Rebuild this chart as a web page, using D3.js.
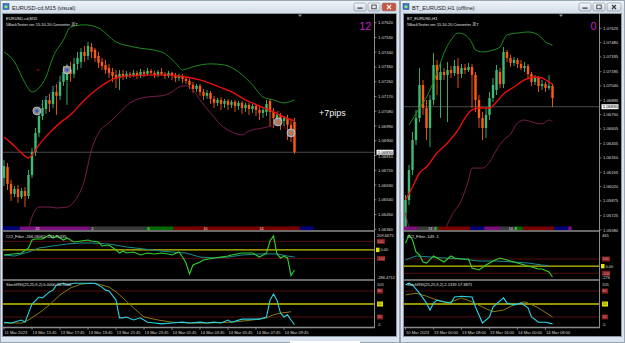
<!DOCTYPE html>
<html><head><meta charset="utf-8">
<script src="https://cdn.jsdelivr.net/npm/d3@7"></script>
<style>
html,body{margin:0;padding:0;background:#d9e2ec;overflow:hidden}
svg{display:block}
text{font-family:"Liberation Sans",Arial,"Noto Sans CJK JP",sans-serif}
</style></head><body>
<svg id="c" width="625" height="343"></svg>
<script>
// ---------------- DATA ----------------
// Left chart: EURUSD-cd M15, candles [open, high, low, close]
const leftOHLC=[
[1.06673,1.06783,1.06624,1.06746],[1.06740,1.06765,1.06600,1.06637],[1.06637,1.06661,1.06533,1.06576],[1.06576,1.06624,1.06557,1.06606],
[1.06606,1.06631,1.06521,1.06557],[1.06557,1.06612,1.06545,1.06594],[1.06594,1.06618,1.06496,1.06563],[1.06563,1.06722,1.06545,1.06692],
[1.06692,1.06856,1.06673,1.06832],[1.06832,1.06978,1.06807,1.06948],[1.06948,1.07100,1.06923,1.07051],[1.07051,1.07149,1.07027,1.07100],
[1.07094,1.07174,1.07064,1.07149],[1.07149,1.07186,1.07076,1.07125],[1.07125,1.07235,1.07100,1.07198],[1.07198,1.07247,1.07058,1.07174],
[1.07174,1.07296,1.07149,1.07259],[1.07259,1.07356,1.07235,1.07320],[1.07271,1.07369,1.07119,1.07332],[1.07332,1.07381,1.07259,1.07308],
[1.07308,1.07405,1.07283,1.07369],[1.07369,1.07442,1.07332,1.07405],[1.07381,1.07466,1.07344,1.07442],[1.07442,1.07478,1.07381,1.07417],
[1.07417,1.07503,1.07393,1.07478],[1.07472,1.07497,1.07405,1.07442],[1.07454,1.07466,1.07381,1.07405],[1.07417,1.07442,1.07344,1.07375],
[1.07381,1.07405,1.07332,1.07356],[1.07362,1.07393,1.07308,1.07332],[1.07344,1.07369,1.07283,1.07314],[1.07320,1.07344,1.07259,1.07296],
[1.07302,1.07332,1.07222,1.07277],[1.07283,1.07332,1.07210,1.07308],[1.07308,1.07332,1.07271,1.07289],[1.07289,1.07326,1.07277,1.07308],
[1.07308,1.07320,1.07283,1.07302],[1.07302,1.07332,1.07289,1.07314],[1.07314,1.07326,1.07277,1.07296],[1.07296,1.07338,1.07283,1.07320],
[1.07320,1.07332,1.07289,1.07308],[1.07308,1.07344,1.07296,1.07326],[1.07326,1.07338,1.07302,1.07314],[1.07314,1.07326,1.07283,1.07302],
[1.07302,1.07332,1.07289,1.07320],[1.07320,1.07344,1.07296,1.07308],[1.07308,1.07320,1.07277,1.07296],[1.07296,1.07326,1.07283,1.07314],
[1.07314,1.07320,1.07271,1.07296],[1.07296,1.07314,1.07259,1.07283],[1.07283,1.07308,1.07265,1.07296],[1.07296,1.07308,1.07253,1.07277],
[1.07277,1.07289,1.07247,1.07265],[1.07265,1.07277,1.07216,1.07241],[1.07241,1.07259,1.07192,1.07216],[1.07216,1.07247,1.07198,1.07235],
[1.07235,1.07247,1.07174,1.07198],[1.07198,1.07216,1.07149,1.07174],[1.07174,1.07210,1.07155,1.07192],[1.07192,1.07204,1.07125,1.07155],
[1.07155,1.07174,1.07100,1.07131],[1.07131,1.07161,1.07112,1.07149],[1.07149,1.07167,1.07088,1.07125],[1.07125,1.07155,1.07100,1.07143],
[1.07143,1.07155,1.07088,1.07119],[1.07119,1.07149,1.07100,1.07137],[1.07137,1.07149,1.07076,1.07112],[1.07112,1.07143,1.07088,1.07131],
[1.07131,1.07143,1.07064,1.07100],[1.07100,1.07131,1.07076,1.07119],[1.07119,1.07131,1.07058,1.07094],[1.07094,1.07125,1.07070,1.07112],
[1.07112,1.07125,1.07051,1.07088],[1.07088,1.07106,1.07027,1.07070],[1.07070,1.07100,1.07039,1.07088],[1.07076,1.07149,1.07051,1.07125],
[1.07143,1.07155,1.06990,1.07076],[1.07076,1.07100,1.06978,1.07039],[1.07039,1.07076,1.07003,1.07058],[1.07058,1.07070,1.06966,1.07021],
[1.07021,1.07051,1.06990,1.07039],[1.07039,1.07058,1.06905,1.06997],[1.06997,1.07027,1.06893,1.06966],[1.07015,1.07039,1.06820,1.06832]];
// Bollinger bands [bar index, price]
const leftUpper=[[0,1.07442],[3,1.07381],[6,1.07253],[8,1.07198],[10,1.07222],[12,1.07289],[14,1.07411],[17,1.07515],[19,1.07594],[23,1.07607],[27,1.07588],[32,1.07503],[37,1.07472],[45,1.07442],[49,1.07375],[51,1.07332],[53,1.07344],[56,1.07362],[59,1.07369],[63,1.07362],[67,1.07320],[71,1.07241],[74,1.07167],[77,1.07149],[80,1.07131],[83,1.07149]];
const leftMiddle=[[0,1.06923],[2,1.06887],[5,1.06826],[7,1.06795],[8,1.06813],[10,1.06875],[13,1.06948],[16,1.07009],[19,1.07058],[23,1.07149],[27,1.07222],[32,1.07283],[36,1.07296],[45,1.07302],[52,1.07289],[56,1.07271],[60,1.07241],[65,1.07198],[69,1.07149],[73,1.07112],[77,1.07076],[80,1.07045],[83,1.07021]];
const leftLower=[[5,1.06295],[7,1.06368],[8,1.06435],[10,1.06496],[13,1.06496],[15,1.06490],[18,1.06496],[20,1.06527],[23,1.06661],[25,1.06844],[27,1.06948],[30,1.07009],[33,1.07070],[36,1.07131],[41,1.07167],[45,1.07174],[48,1.07198],[50,1.07228],[52,1.07235],[54,1.07210],[56,1.07149],[59,1.07070],[62,1.06997],[65,1.06954],[68,1.06936],[70,1.06960],[74,1.06978],[78,1.06997]];
const leftCCI=[[0,-60],[5,-37],[7,22],[8,116],[9,128],[11,128],[13,175],[14,140],[15,163],[17,116],[18,140],[20,93],[22,104],[24,116],[25,104],[27,93],[28,46],[30,57],[32,-1],[33,-37],[34,-13],[35,-37],[37,-25],[39,-60],[41,-37],[43,-48],[45,-37],[47,-48],[48,-60],[50,-25],[51,-84],[52,-154],[53,-283],[54,-177],[56,-142],[57,-119],[60,-95],[62,-84],[64,-72],[65,-60],[68,-37],[70,-37],[71,-37],[73,-84],[75,-37],[76,104],[77,163],[78,-48],[79,-95],[80,-72],[81,-95],[82,-300],[83,-236]];
const leftCCISignal=[[0,-60],[3,-72],[7,-25],[10,22],[14,46],[18,69],[22,81],[25,81],[30,69],[35,34],[40,10],[45,-13],[48,-25],[52,-37],[56,-84],[60,-95],[64,-84],[68,-60],[73,-48],[78,-48],[81,-72],[83,-84]];
const leftStoch=[[0,8],[2,6],[5,13],[6,8],[7,29],[8,50],[10,66],[11,64],[13,78],[14,82],[15,94],[17,98],[18,94],[20,98],[23,98],[26,98],[28,89],[29,82],[30,80],[32,59],[33,18],[34,18],[35,20],[37,13],[39,18],[41,8],[43,6],[45,4],[48,6],[51,8],[53,6],[56,8],[58,6],[60,8],[62,6],[64,13],[65,8],[68,15],[70,15],[73,15],[75,20],[76,59],[77,73],[78,59],[79,29],[80,20],[81,25],[82,13],[83,2]];
const leftStochSignal=[[0,6],[5,6],[7,13],[10,29],[13,48],[16,71],[19,87],[22,96],[25,98],[27,96],[30,89],[32,78],[34,64],[37,41],[40,20],[44,13],[48,8],[53,6],[58,6],[65,8],[71,13],[75,18],[77,25],[79,29],[82,32]];
const leftMarkers=[[9.4,1.07082,"buy"],[18,1.07332,"buy"],[78.3,1.07015,"sell"],[82,1.06948,"sell"]];
const leftOrderMarks=[[9.7,1.07332],[78.3,1.07076]];
const leftSessions=[[-0.5,5,"#00007a"],[5,25,"#7d0f7d"],[25,41,"#3a3a3a"],[41,49,"#006a00"],[49,85,"#7a0000"],[85,89,"#00007a"]];
const leftSessionLabels=[[9,"22"],[25,"2"],[41,"6"],[57,"10"],[73,"14"]];
const leftPriceTicks=[1.07620,1.07530,1.07440,1.07350,1.07260,1.07170,1.07080,1.06990,1.06900,1.06810,1.06720,1.06630,1.06540,1.06450,1.06360];
const leftTimeLabels=["11 Mar 2023","13 Mar 15:45","13 Mar 17:45","13 Mar 19:45","13 Mar 21:45","13 Mar 23:45","14 Mar 01:45","14 Mar 03:45","14 Mar 05:45","14 Mar 07:45","14 Mar 09:45"];
const leftTimeIdx=[0,8,16,24,32,40,48,56,64,72,80];

// Right chart: BT_EURUSD H1
const rightOHLC=[
[1.05600,1.05935,1.05560,1.05884],[1.05884,1.06239,1.05833,1.06188],[1.06188,1.06574,1.06138,1.06492],[1.06492,1.06797,1.06442,1.06716],
[1.06716,1.07223,1.06675,1.07050],[1.07050,1.07101,1.06746,1.06817],[1.06817,1.06898,1.06492,1.06614],[1.06614,1.06949,1.06421,1.06898],
[1.06898,1.07375,1.06847,1.07253],[1.07253,1.07304,1.06949,1.07101],[1.07101,1.07283,1.06716,1.07182],[1.07182,1.07223,1.07101,1.07152],
[1.07152,1.07283,1.06675,1.07202],[1.07202,1.07243,1.07121,1.07172],[1.07172,1.07304,1.07141,1.07243],[1.07243,1.07324,1.07020,1.07162],
[1.07162,1.07263,1.07121,1.07223],[1.07223,1.07263,1.07162,1.07202],[1.07202,1.07273,1.07182,1.07233],[1.07233,1.07263,1.06817,1.07152],
[1.07152,1.07182,1.06776,1.06898],[1.06898,1.06949,1.06614,1.06716],[1.06716,1.06776,1.06492,1.06614],[1.06614,1.06817,1.06513,1.06746],
[1.06746,1.06979,1.06695,1.06918],[1.06918,1.07121,1.06878,1.07050],[1.06999,1.07253,1.06949,1.07202],[1.07182,1.07223,1.07020,1.07060],
[1.07060,1.07435,1.07020,1.07385],[1.07385,1.07405,1.07283,1.07324],[1.07324,1.07354,1.07233,1.07273],[1.07273,1.07334,1.07243,1.07304],
[1.07304,1.07324,1.07223,1.07263],[1.07263,1.07304,1.07202,1.07223],[1.07223,1.07283,1.07182,1.07243],[1.07243,1.07263,1.07121,1.07162],
[1.07162,1.07182,1.07040,1.07081],[1.07081,1.07152,1.07050,1.07121],[1.07121,1.07141,1.06979,1.07040],[1.07040,1.07101,1.06999,1.07060],
[1.07060,1.07081,1.06979,1.07020],[1.07020,1.07152,1.06999,1.07040],[1.07040,1.07060,1.06827,1.06918]];
const rightUpper=[[1,1.06645],[4,1.06817],[6,1.06928],[9,1.07172],[11,1.07375],[13,1.07506],[15,1.07577],[17,1.07557],[19,1.07476],[20,1.07405],[22,1.07385],[25,1.07405],[27,1.07435],[28,1.07506],[29,1.07557],[32,1.07577],[35,1.07588],[38,1.07557],[40,1.07486],[42,1.07456]];
const rightMiddle=[[0,1.05884],[2,1.06016],[4,1.06158],[6,1.06219],[9,1.06361],[12,1.06462],[15,1.06594],[17,1.06716],[19,1.06797],[21,1.06817],[24,1.06817],[26,1.06878],[28,1.06959],[31,1.07030],[34,1.07101],[37,1.07131],[39,1.07121],[41,1.07081],[42,1.07060]];
const rightLower=[[0,1.05752],[1,1.05600],[2,1.05428],[5,1.04900],[9,1.05100],[11,1.05529],[13,1.05712],[16,1.05884],[18,1.06087],[19,1.06208],[22,1.06208],[24,1.06269],[26,1.06391],[28,1.06492],[30,1.06553],[32,1.06665],[34,1.06695],[37,1.06665],[39,1.06655],[41,1.06695],[42,1.06675]];
const rightCCI=[[0,325],[1,437],[2,367],[3,199],[4,157],[5,58],[6,44],[8,143],[9,115],[11,58],[13,143],[14,115],[16,100],[18,100],[19,-26],[21,-54],[23,16],[25,72],[27,115],[29,86],[31,58],[34,16],[36,-12],[38,-40],[39,-40],[41,-82],[42,-152]];
const rightCCISignal=[[0,86],[3,143],[7,129],[11,115],[16,100],[21,72],[26,72],[31,58],[35,44],[39,16],[41,2]];
const rightStoch=[[0,94],[1,98],[2,94],[4,75],[6,52],[7,36],[8,52],[9,59],[11,55],[13,52],[14,66],[16,68],[19,66],[20,43],[22,6],[24,20],[25,43],[28,64],[29,52],[31,48],[33,52],[35,41],[36,20],[38,8],[40,8],[42,4]];
const rightStochSignal=[[0,71],[3,75],[6,68],[9,59],[12,52],[16,64],[19,55],[22,43],[25,32],[28,36],[31,48],[34,55],[35,52],[38,41],[42,20]];
const rightSessions=[[-0.5,4,"#7d0f7d"],[4,9,"#3a3a3a"],[9,10,"#006a00"],[10,19,"#7a0000"],[19,23,"#00007a"],[23,27.5,"#7d0f7d"],[27.5,31.5,"#3a3a3a"],[31.5,34,"#006a00"],[34,43,"#7a0000"],[43,47,"#00007a"],[47,48,"#7d0f7d"]];
const rightSessionLabels=[[6.5,"13_8"],[29.5,"14_8"]];
const rightPriceTicks=[1.07625,1.07480,1.07335,1.07185,1.07040,1.06895,1.06750,1.06605,1.06455,1.06310,1.06165,1.06020,1.05875,1.05725,1.05580];
const rightTimeLabels=["10 Mar 2023","13 Mar 00:00","13 Mar 08:00","13 Mar 16:00","14 Mar 00:00","14 Mar 08:00"];
const rightTimeIdx=[0,8,16,24,32,40];

const currentPrice=1.06830;
const cciLevels=[100,0,-100];
const stochLevels=[80,50,20];

// ---------------- DRAW ----------------
const svg=d3.select("#c");
const defs=svg.append("defs");
const tg=defs.append("linearGradient").attr("id","tb").attr("x1",0).attr("y1",0).attr("x2",0).attr("y2",1);
tg.append("stop").attr("offset","0").attr("stop-color","#eef3f8");
tg.append("stop").attr("offset","1").attr("stop-color","#d3dde8");
const bg=defs.append("linearGradient").attr("id","btn").attr("x1",0).attr("y1",0).attr("x2",0).attr("y2",1);
bg.append("stop").attr("offset","0").attr("stop-color","#f6f8fb");
bg.append("stop").attr("offset","1").attr("stop-color","#cdd7e2");

svg.append("rect").attr("width",625).attr("height",343).attr("fill","#d6dfe9");

function T(g,x,y,s,size,fill,anchor){
  return g.append("text").attr("x",x).attr("y",y).attr("font-size",size).attr("fill",fill)
   .attr("text-anchor",anchor||"start").text(s);
}

function windowChrome(x0,x1,title,active){
  const g=svg.append("g");
  g.append("rect").attr("x",x0+0.5).attr("y",0.5).attr("width",x1-x0-1).attr("height",342).attr("fill","#dbe4ee").attr("stroke","#9aa7b5");
  g.append("rect").attr("x",x0+1).attr("y",1).attr("width",x1-x0-2).attr("height",12).attr("fill","url(#tb)");
  g.append("rect").attr("x",x0+3).attr("y",3.5).attr("width",6).attr("height",6).attr("fill","#3a78c8").attr("stroke","#1d4f8a").attr("stroke-width",0.5);
  g.append("rect").attr("x",x0+4.5).attr("y",5.5).attr("width",3).attr("height",2.5).attr("fill","#8fe07a");
  T(g,x0+12,9.6,title,5.6,"#1e1e1e");
  const bw=[[x1-46,12],[x1-32,12],[x1-18,14]];
  bw.forEach((b,k)=>{
    const close=(k===2&&active);
    g.append("rect").attr("x",b[0]).attr("y",3).attr("width",b[1]).attr("height",8).attr("rx",1.5)
     .attr("fill",close?"#c9553f":"url(#btn)").attr("stroke","#7f8d9c").attr("stroke-width",0.6);
    const cx=b[0]+b[1]/2;
    if(k===0) g.append("rect").attr("x",cx-2.5).attr("y",7.5).attr("width",5).attr("height",1.2).attr("fill","#333");
    if(k===1) g.append("rect").attr("x",cx-2.2).attr("y",5).attr("width",4.4).attr("height",3.8).attr("fill","none").attr("stroke","#333").attr("stroke-width",0.8);
    if(k===2) g.append("path").attr("d",`M${cx-2},5 L${cx+2},9 M${cx+2},5 L${cx-2},9`).attr("stroke",close?"#fff":"#333").attr("stroke-width",1.1);
  });
}
windowChrome(0,400,"EURUSD-cd,M15 (visual)",true);
windowChrome(400,625,"BT_EURUSD,H1 (offline)",false);
svg.append("rect").attr("x",290).attr("y",341).attr("width",70).attr("height",2).attr("fill","#fff");

function drawChart(c){
  const g=svg.append("g");
  g.append("rect").attr("x",c.bx0-0.5).attr("y",13.5).attr("width",c.bx1-c.bx0+1).attr("height",323).attr("fill","none").attr("stroke","#8c96a2");
  g.append("rect").attr("x",c.bx0).attr("y",14).attr("width",c.bx1-c.bx0).attr("height",322).attr("fill","#000");
  const x=d3.scaleLinear().domain([0,1]).range([c.barX0,c.barX0+3.5]);
  const y=d3.scaleLinear().domain(c.pDom).range(c.pRng);
  const yC=d3.scaleLinear().domain(c.cDom).range(c.cRng);
  const yS=d3.scaleLinear().domain([-5,105]).range([327.8,280.2]);
  const clip=(id,y0,y1)=>{defs.append("clipPath").attr("id",id).append("rect").attr("x",c.bx0).attr("y",y0).attr("width",c.axisX-c.bx0).attr("height",y1-y0);return `url(#${id})`;};
  const mClip=clip(c.id+"m",14,230.5),cClip=clip(c.id+"c",232,279.5),sClip=clip(c.id+"s",281,327);

  // main pane
  const main=g.append("g").attr("clip-path",mClip);
  main.append("line").attr("x1",c.bx0).attr("x2",c.axisX).attr("y1",y(currentPrice)).attr("y2",y(currentPrice)).attr("stroke","#4a4a4a").attr("stroke-width",1);
  c.ohlc.forEach((d,i)=>{
    const up=d[3]>=d[0];const col=up?"#3dbb74":"#ff5a12";
    main.append("line").attr("x1",x(i)).attr("x2",x(i)).attr("y1",y(d[1])).attr("y2",y(d[2])).attr("stroke",col).attr("stroke-width",0.9);
    const top=y(Math.max(d[0],d[3])),bot=y(Math.min(d[0],d[3]));
    main.append("rect").attr("x",x(i)-1.2).attr("y",top).attr("width",2.4).attr("height",Math.max(1,bot-top)).attr("fill",col);
  });
  const band=d3.line().x(d=>x(d[0])).y(d=>y(d[1])).curve(d3.curveMonotoneX);
  main.append("path").attr("d",band(c.lower)).attr("fill","none").attr("stroke","#7a1c4c").attr("stroke-width",1);
  main.append("path").attr("d",band(c.upper)).attr("fill","none").attr("stroke","#1f8a1f").attr("stroke-width",1);
  main.append("path").attr("d",band(c.middle)).attr("fill","none").attr("stroke","#e8100c").attr("stroke-width",1.4);
  if(c.markers){
    const m=c.markers;
    main.append("line").attr("x1",x(m[0][0])).attr("y1",y(m[0][1])).attr("x2",x(m[1][0])).attr("y2",y(m[1][1]))
      .attr("stroke","#3c5cff").attr("stroke-width",0.8).attr("stroke-dasharray","1,1.5");
    main.append("line").attr("x1",x(m[2][0])).attr("y1",y(m[2][1])).attr("x2",x(m[3][0])).attr("y2",y(m[3][1]))
      .attr("stroke","#ff3030").attr("stroke-width",0.8).attr("stroke-dasharray","1,1.5");
    c.orders.forEach(o=>main.append("line").attr("x1",x(o[0])-1.5).attr("x2",x(o[0])+1.5).attr("y1",y(o[1])).attr("y2",y(o[1])).attr("stroke","#e01010").attr("stroke-width",0.9));
    m.forEach(d=>{
      const cx=x(d[0]),cy=y(d[1]);
      main.append("circle").attr("cx",cx).attr("cy",cy).attr("r",4).attr("fill","#9b9b9b").attr("fill-opacity",0.85).attr("stroke","#d8d8d8").attr("stroke-width",0.7);
      main.append("circle").attr("cx",cx).attr("cy",cy).attr("r",1.5).attr("fill",d[2]==="buy"?"#3050e0":"#ff6020");
    });
  }
  // shift marker
  g.append("path").attr("d",`M${c.shiftX-2},14.5 L${c.shiftX+2},14.5 L${c.shiftX},17 Z`).attr("fill","#8a8a8a");
  // session bar
  c.sessions.forEach(s=>{
    const xa=Math.max(c.bx0,x(s[0])-1.75),xb=Math.min(c.axisX,x(s[1])-1.75);
    g.append("rect").attr("x",xa).attr("y",226.5).attr("width",xb-xa).attr("height",3.8).attr("fill",s[2]);
  });
  c.sessionLabels.forEach(s=>T(g,x(s[0]),229.8,s[1],3.6,"#e8e8e8"));
  // texts
  T(g,c.bx0+3,19.5,c.name,4,"#e6e6e6");
  T(g,c.bx0+3,26,"5BackTester  ver 15.10.20   Converter   足T",4,"#e6e6e6");
  T(g,c.axisX-3,29.5,c.count,11,"#c21ec2","end");
  if(c.pips) T(g,319,116,c.pips,9,"#f2f2f2");

  // separators
  [231,280,327.5].forEach(v=>g.append("line").attr("x1",c.bx0).attr("x2",c.axisX).attr("y1",v).attr("y2",v).attr("stroke","#8c8c8c").attr("stroke-width",1.3));

  // CCI pane
  const cp=g.append("g").attr("clip-path",cClip);
  cciLevels.forEach(v=>cp.append("line").attr("x1",c.bx0).attr("x2",c.axisX).attr("y1",yC(v)).attr("y2",yC(v))
     .attr("stroke",v===0?"#c8c400":"#5c1212").attr("stroke-width",v===0?1.3:0.9));
  const lc=d3.line().x(d=>x(d[0])).y(d=>yC(d[1]));
  cp.append("path").attr("d",lc(c.cciSig)).attr("fill","none").attr("stroke","#1d8a92").attr("stroke-width",1);
  cp.append("path").attr("d",lc(c.cci)).attr("fill","none").attr("stroke","#30d22c").attr("stroke-width",1.1);
  T(g,c.bx0+3,237.5,c.cciLabel,4,"#e0e0e0");

  // Stoch pane
  const sp=g.append("g").attr("clip-path",sClip);
  stochLevels.forEach(v=>sp.append("line").attr("x1",c.bx0).attr("x2",c.axisX).attr("y1",yS(v)).attr("y2",yS(v))
     .attr("stroke",v===50?"#c8c400":"#5c1212").attr("stroke-width",v===50?1.3:0.9));
  const ls=d3.line().x(d=>x(d[0])).y(d=>yS(d[1]));
  sp.append("path").attr("d",ls(c.stochSig)).attr("fill","none").attr("stroke","#8c7a12").attr("stroke-width",1);
  sp.append("path").attr("d",ls(c.stoch)).attr("fill","none").attr("stroke","#28d4e6").attr("stroke-width",1.1);
  T(g,c.bx0+3,286,c.stochLabel,4,"#e0e0e0");

  // price axis
  g.append("line").attr("x1",c.axisX).attr("x2",c.axisX).attr("y1",14).attr("y2",328).attr("stroke","#8c8c8c").attr("stroke-width",1);
  const ax=c.axisX;
  const cy=y(currentPrice);
  c.ticks.forEach(t=>{
    const yy=y(t);
    g.append("line").attr("x1",ax).attr("x2",ax+2).attr("y1",yy).attr("y2",yy).attr("stroke","#bbb").attr("stroke-width",0.6);
    let ty=yy+1.5;
    if(Math.abs(yy-cy)<6) ty=Math.max(ty,cy+2.5+3.4);
    T(g,ax+3.5,ty,t.toFixed(5),4.2,"#dcdcdc");
  });
  g.append("rect").attr("x",ax+2).attr("y",cy-2.5).attr("width",17).attr("height",5).attr("fill","#f4f4f4");
  T(g,ax+3.3,cy+1.5,currentPrice.toFixed(5),4.2,"#000");
  // indicator axis labels
  T(g,ax+2.5,236.5,c.cciMax,4,"#dcdcdc");
  T(g,ax+2.5,278.5,c.cciMin,4,"#dcdcdc");
  cciLevels.forEach(v=>{
    const yy=yC(v);
    if(v===0){
      g.append("rect").attr("x",ax+1.5).attr("y",yy-2.2).attr("width",3.5).attr("height",4.4).attr("fill","#e2e200");
      T(g,ax+6,yy+1.5,"0.00",4,"#dcdcdc");
    } else {
      g.append("rect").attr("x",ax+2.5).attr("y",yy-2.5).attr("width",8).attr("height",5).attr("fill","#8a1c1c");
      T(g,ax+3,yy+1.4,String(v),3.6,"#d8a0a0");
    }
  });
  T(g,ax+2.5,285.5,"105",4,"#dcdcdc");
  T(g,ax+2.5,325.5,"-5",4,"#dcdcdc");
  stochLevels.forEach(v=>{
    const yy=yS(v);
    g.append("rect").attr("x",ax+2.5).attr("y",yy-2.5).attr("width",6).attr("height",5).attr("fill",v===50?"#e2e200":"#8a1c1c");
    T(g,ax+3,yy+1.4,String(v),3.6,v===50?"#444":"#d8a0a0");
  });
  // time axis
  c.timeIdx.forEach((ti,k)=>{
    const xx=x(ti);
    g.append("line").attr("x1",xx).attr("x2",xx).attr("y1",327.5).attr("y2",330).attr("stroke","#aaa").attr("stroke-width",0.6);
    T(g,xx+0.5,333.5,c.timeLabels[k],4.1,"#d6d6d6");
  });
}

drawChart({id:"L",bx0:3,bx1:396,axisX:374.5,barX0:4,shiftX:300,
  pDom:[1.06360,1.07620],pRng:[229.3,22.7],cDom:[-330,210],cRng:[278,232],
  ohlc:leftOHLC,upper:leftUpper,middle:leftMiddle,lower:leftLower,
  cci:leftCCI,cciSig:leftCCISignal,stoch:leftStoch,stochSig:leftStochSignal,
  markers:leftMarkers,orders:leftOrderMarks,sessions:leftSessions,sessionLabels:leftSessionLabels,
  ticks:leftPriceTicks,timeLabels:leftTimeLabels,timeIdx:leftTimeIdx,
  name:"EURUSD-cd,M15",count:"12",pips:"+7pips",
  cciLabel:"CCI_Filter -266.26062 -113.75335",stochLabel:"StochRSI(25,25,9,2) 0.0000 26.9266",
  cciMax:"209.6675",cciMin:"-286.4712"});
drawChart({id:"R",bx0:404,bx1:621,axisX:599.5,barX0:405.5,shiftX:561,
  pDom:[1.05580,1.07625],pRng:[230,28.3],cDom:[-180,465],cRng:[279,233],
  ohlc:rightOHLC,upper:rightUpper,middle:rightMiddle,lower:rightLower,
  cci:rightCCI,cciSig:rightCCISignal,stoch:rightStoch,stochSig:rightStochSignal,
  markers:null,sessions:rightSessions,sessionLabels:rightSessionLabels,
  ticks:rightPriceTicks,timeLabels:rightTimeLabels,timeIdx:rightTimeIdx,
  name:"BT_EURUSD,H1",count:"0",pips:null,
  cciLabel:"CCI_Filter -149 -1",stochLabel:"StochRSI(25,25,9,2) 2.1319 17.3871",
  cciMax:"465",cciMin:"-276"});
</script>
</body></html>
